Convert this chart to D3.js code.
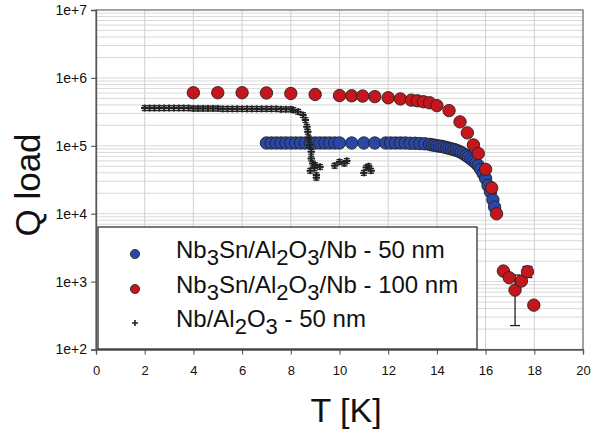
<!DOCTYPE html>
<html>
<head>
<meta charset="utf-8">
<script src="https://cdn.jsdelivr.net/npm/d3@7"></script>
<style>
  html, body { margin: 0; padding: 0; background: #fff; }
  svg { display: block; font-family: "Liberation Sans", Arial, sans-serif; }
</style>
</head>
<body>
<svg id="chart" width="597" height="430"></svg>
<script>
// ---------------- data ----------------
const xTicks = [0, 2, 4, 6, 8, 10, 12, 14, 16, 18, 20];
const yTicks = [1e2, 1e3, 1e4, 1e5, 1e6, 1e7];

// Nb3Sn/Al2O3/Nb - 50 nm (blue)
const blueT = [7.0, 7.2, 7.4, 7.6, 7.8, 8.0, 8.2, 8.4, 8.6, 8.8, 9.0, 9.2, 9.4, 9.6, 9.8, 10.0,
  10.5, 11.0, 11.45, 11.9, 12.1, 12.3, 12.5, 12.7, 12.9, 13.1, 13.3, 13.5, 13.7,
  13.8, 13.9, 14.0, 14.1, 14.2, 14.3, 14.4, 14.5, 14.6, 14.7, 14.8, 14.9, 15.0,
  15.1, 15.2, 15.3, 15.4, 15.5, 15.6, 15.7, 15.8, 15.9, 16.0, 16.1, 16.2, 16.3, 16.37];
const blueQ = [1.1e5, 1.1e5, 1.1e5, 1.1e5, 1.1e5, 1.1e5, 1.1e5, 1.1e5, 1.1e5, 1.1e5, 1.1e5, 1.1e5, 1.1e5, 1.1e5, 1.1e5, 1.1e5,
  1.1e5, 1.1e5, 1.1e5, 1.1e5, 1.1e5, 1.1e5, 1.1e5, 1.1e5, 1.09e5, 1.09e5, 1.08e5, 1.07e5, 1.05e5,
  1.03e5, 1.02e5, 1.0e5, 9.9e4, 9.8e4, 9.6e4, 9.4e4, 9.2e4, 9.0e4, 8.8e4, 8.6e4, 8.3e4, 8.0e4,
  7.6e4, 7.2e4, 6.8e4, 6.4e4, 6.0e4, 5.6e4, 5.1e4, 4.5e4, 3.9e4, 3.3e4, 2.6e4, 2.1e4, 1.6e4, 1.25e4];

// Nb3Sn/Al2O3/Nb - 100 nm (red)
const redT = [4.0, 5.0, 6.0, 7.0, 8.0, 9.0, 10.0, 10.5, 10.95, 11.45, 12.0, 12.5, 12.95, 13.2, 13.45, 13.7,
  14.0, 14.5, 14.95, 15.25, 15.5, 15.7, 16.0, 16.25, 16.45,
  16.73, 16.97, 17.21, 17.47, 17.72, 17.98];
const redQ = [6.05e5, 6.05e5, 6.05e5, 6.0e5, 5.9e5, 5.7e5, 5.5e5, 5.45e5, 5.4e5, 5.3e5, 5.1e5, 4.9e5, 4.7e5, 4.6e5, 4.45e5, 4.3e5,
  3.9e5, 3.3e5, 2.25e5, 1.55e5, 1.03e5, 7.7e4, 4.5e4, 2.4e4, 1.0e4,
  1.43e3, 1.14e3, 7.5e2, 1.02e3, 1.4e3, 4.5e2];
// error bars on red points
const redErrT = [17.21, 17.72];
const redErrLo = [2.25e2, 1.15e3];
const redErrHi = [1.25e3, 1.67e3];

// Nb/Al2O3 - 50 nm (crosses)
const crossT = [2.0, 2.2, 2.4, 2.6, 2.8, 3.0, 3.2, 3.4, 3.6, 3.8, 4.0, 4.2, 4.4, 4.6, 4.8, 5.0,
  5.2, 5.4, 5.6, 5.8, 6.0, 6.2, 6.4, 6.6, 6.8, 7.0, 7.2, 7.4, 7.6, 7.8, 8.0,
  8.1, 8.3, 8.5, 8.6, 8.66, 8.7, 8.74, 8.77, 8.84, 8.84, 8.9, 8.97, 9.05, 9.05, 9.0, 9.2, 8.8,
  10.0, 10.2, 9.8, 10.3, 11.1, 11.3, 11.0, 11.2];
const crossQ = [3.6e5, 3.6e5, 3.6e5, 3.6e5, 3.6e5, 3.6e5, 3.6e5, 3.6e5, 3.6e5, 3.6e5, 3.55e5, 3.55e5, 3.55e5, 3.55e5, 3.55e5, 3.55e5,
  3.5e5, 3.5e5, 3.5e5, 3.5e5, 3.5e5, 3.5e5, 3.5e5, 3.5e5, 3.5e5, 3.5e5, 3.5e5, 3.5e5, 3.45e5, 3.45e5, 3.45e5,
  3.37e5, 3.18e5, 2.84e5, 2.4e5, 1.91e5, 1.61e5, 1.29e5, 1.03e5, 8.2e4, 6.5e4, 5.5e4, 4.7e4, 3.7e4, 3.4e4, 5.2e4, 4.9e4, 4.3e4,
  5.8e4, 5.5e4, 5.1e4, 6.0e4, 4.8e4, 4.3e4, 4.0e4, 5.0e4];
const crossTErr = 0.15;     // K, horizontal half error
const crossQErrFrac = 0.08; // relative vertical error

const legendLabels = ["Nb_3Sn/Al_2O_3/Nb - 50 nm", "Nb_3Sn/Al_2O_3/Nb - 100 nm", "Nb/Al_2O_3 - 50 nm"];
const xTitle = "T [K]";
const yTitle = "Q load";

// ---------------- drawing ----------------
const BLUE = "#2b47a5", RED = "#c4161c", INK = "#222";
const svg = d3.select("#chart");
const L = 96, R = 583, T = 10, B = 349.5;
const x = d3.scaleLinear().domain([0, 20]).range([L, R]);
const y = d3.scaleLog().domain([1e2, 1e7]).range([B, T]);

// grid
const grid = svg.append("g");
const minor = [];
for (let e = 2; e < 7; e++) for (let m = 1; m <= 9; m++) minor.push(m * Math.pow(10, e));
grid.selectAll("line.h").data(minor).join("line")
  .attr("x1", L).attr("x2", R).attr("y1", d => y(d)).attr("y2", d => y(d))
  .attr("stroke", "#d9d9d9").attr("stroke-width", 1);
grid.selectAll("line.v").data(xTicks.slice(1, -1)).join("line")
  .attr("x1", d => x(d)).attr("x2", d => x(d)).attr("y1", T).attr("y2", B)
  .attr("stroke", "#d0d0d0").attr("stroke-width", 1);

// frame (top/right)
svg.append("rect").attr("x", L).attr("y", T).attr("width", R - L).attr("height", B - T)
  .attr("fill", "none").attr("stroke", "#666").attr("stroke-width", 1.2);

// axes
const xAxis = svg.append("g").attr("transform", `translate(0,${B})`)
  .call(d3.axisBottom(x).tickValues(xTicks).tickSize(5).tickPadding(11).tickFormat(d3.format("d")));
const yAxis = svg.append("g").attr("transform", `translate(${L},0)`)
  .call(d3.axisLeft(y).tickValues(yTicks).tickSize(5).tickPadding(4).tickFormat(d => "1e+" + Math.round(Math.log10(d))));
[[xAxis, 13], [yAxis, 14]].forEach(([a, fs]) => {
  a.attr("font-size", fs);
  a.select(".domain").attr("stroke", "#555").attr("stroke-width", 1.3);
  a.selectAll(".tick line").attr("stroke", "#555").attr("stroke-width", 1.1);
  a.selectAll("text").attr("font-size", fs).attr("fill", "#111")
    .attr("font-family", "'Liberation Sans', Arial, sans-serif");
});

// axis titles
svg.append("text").attr("x", 346).attr("y", 422).attr("text-anchor", "middle")
  .attr("font-size", 34).attr("fill", "#111").text(xTitle);
svg.append("text").attr("transform", "translate(40,185) rotate(-90)").attr("text-anchor", "middle")
  .attr("font-size", 35).attr("fill", "#111").text(yTitle);

// blue series
svg.append("g").selectAll("circle").data(blueT.map((t, i) => [t, blueQ[i]])).join("circle")
  .attr("cx", d => x(d[0])).attr("cy", d => y(d[1])).attr("r", 6.2)
  .attr("fill", BLUE).attr("stroke", "#222").attr("stroke-width", 0.9);

// red error bars
const reb = svg.append("g").attr("stroke", INK).attr("stroke-width", 1.3);
redErrT.forEach((t, i) => {
  reb.append("line").attr("x1", x(t)).attr("x2", x(t)).attr("y1", y(redErrLo[i])).attr("y2", y(redErrHi[i]));
  [redErrLo[i], redErrHi[i]].forEach(v => reb.append("line")
    .attr("x1", x(t) - 5).attr("x2", x(t) + 5).attr("y1", y(v)).attr("y2", y(v)));
});
// red series
svg.append("g").selectAll("circle").data(redT.map((t, i) => [t, redQ[i]])).join("circle")
  .attr("cx", d => x(d[0])).attr("cy", d => y(d[1])).attr("r", 6.2)
  .attr("fill", RED).attr("stroke", "#222").attr("stroke-width", 0.9);

// crosses with error bars
const cg = svg.append("g").attr("stroke", INK).attr("stroke-width", 1.3);
crossT.forEach((t, i) => {
  const cx = x(t), cy = y(crossQ[i]);
  cg.append("line").attr("x1", x(t - crossTErr)).attr("x2", x(t + crossTErr)).attr("y1", cy).attr("y2", cy);
  const y1 = y(crossQ[i] * (1 + crossQErrFrac)), y2 = y(crossQ[i] * (1 - crossQErrFrac));
  cg.append("line").attr("x1", cx).attr("x2", cx).attr("y1", y1).attr("y2", y2);
  cg.append("line").attr("x1", cx - 3).attr("x2", cx + 3).attr("y1", y1).attr("y2", y1);
  cg.append("line").attr("x1", cx - 3).attr("x2", cx + 3).attr("y1", y2).attr("y2", y2);
  cg.append("line").attr("x1", cx - 3.5).attr("x2", cx + 3.5).attr("y1", cy).attr("y2", cy).attr("stroke-width", 2);
  cg.append("line").attr("x1", cx).attr("x2", cx).attr("y1", cy - 3.5).attr("y2", cy + 3.5).attr("stroke-width", 2);
});

// legend
const lg = svg.append("g");
lg.append("rect").attr("x", 98).attr("y", 227).attr("width", 379).attr("height", 122)
  .attr("fill", "#fff").attr("stroke", "#333").attr("stroke-width", 1.3);
const rowY = [254, 289, 323];
lg.append("circle").attr("cx", 135).attr("cy", rowY[0]).attr("r", 4.6).attr("fill", BLUE).attr("stroke", "#222").attr("stroke-width", 0.8);
lg.append("circle").attr("cx", 135).attr("cy", rowY[1]).attr("r", 4.6).attr("fill", RED).attr("stroke", "#222").attr("stroke-width", 0.8);
lg.append("path").attr("d", `M${132},${rowY[2]}h6M${135},${rowY[2] - 3}v6`).attr("stroke", INK).attr("stroke-width", 1.6);
legendLabels.forEach((lab, i) => {
  const t = lg.append("text").attr("x", 176).attr("y", rowY[i] + 4).attr("font-size", 24).attr("fill", "#111");
  const parts = lab.split(/(_\d)/).filter(s => s.length);
  let shifted = false;
  parts.forEach(p => {
    if (p.startsWith("_")) {
      t.append("tspan").attr("dy", shifted ? 0 : 7).attr("font-size", 22).text(p.slice(1));
      shifted = true;
    } else {
      t.append("tspan").attr("dy", shifted ? -7 : 0).text(p);
      shifted = false;
    }
  });
});
</script>
</body>
</html>
